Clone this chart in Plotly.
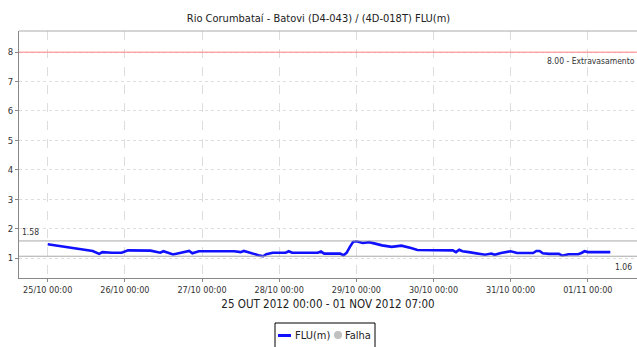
import plotly.graph_objects as go
import pandas as pd

# Hours after 25/10/2012 00:00 and river level readings (m)
hours = [0, 4, 8, 11, 14, 16, 17, 20, 23, 25, 29, 32, 35, 36, 39, 42, 44, 45, 47,
         58, 60, 61, 63, 66, 67, 68, 70, 74, 75, 76, 84, 85, 86, 91, 92, 93, 94,
         95, 96, 98, 100, 102, 104, 107, 109, 110, 113, 115, 126, 127, 128, 129,
         131, 134, 136, 138, 139, 141, 144, 146, 151, 152, 153, 154, 156, 159,
         160, 162, 165, 166, 167, 168, 175]
level = [1.47, 1.41, 1.34, 1.30, 1.24, 1.14, 1.20, 1.18, 1.18, 1.26, 1.26, 1.25,
         1.18, 1.23, 1.12, 1.20, 1.24, 1.16, 1.23, 1.23, 1.20, 1.24, 1.17, 1.08,
         1.06, 1.13, 1.18, 1.18, 1.23, 1.18, 1.18, 1.22, 1.15, 1.15, 1.09, 1.18,
         1.38, 1.55, 1.57, 1.51, 1.54, 1.48, 1.43, 1.38, 1.42, 1.42, 1.34, 1.27,
         1.26, 1.20, 1.28, 1.23, 1.20, 1.16, 1.11, 1.15, 1.11, 1.17, 1.23, 1.17,
         1.17, 1.24, 1.24, 1.16, 1.14, 1.14, 1.08, 1.13, 1.13, 1.17, 1.23, 1.20,
         1.20]

max_level = 1.58
min_level = 1.06
overflow_level = 8.00
overflow_label = "8.00 - Extravasamento"
y_ticks = [1, 2, 3, 4, 5, 6, 7, 8]
series_name = "FLU(m)"
gap_name = "Falha"

start = pd.Timestamp("2012-10-25 00:00")
times = [start + pd.Timedelta(hours=h) for h in hours]

FONT = "DejaVu Sans Condensed, DejaVu Sans, sans-serif"
BLUE = "#1010ff"
GRAY_DOT = "#c0c0c0"

W, H = 637, 347
ML, MR, MT, MB = 19, 0, 31, 69
PW, PH = W - ML - MR, H - MT - MB


def px_x(px):
    """pixel column -> paper x"""
    return (px - ML) / PW


def px_y(py):
    """pixel row -> paper y"""
    return (H - MB - py) / PH


fig = go.Figure()
fig.add_trace(go.Scatter(x=times, y=level, mode="lines", name=series_name,
                         line=dict(color=BLUE, width=2.6), showlegend=False))
fig.add_trace(go.Scatter(x=[None], y=[None], mode="markers", name=gap_name,
                         marker=dict(color=GRAY_DOT, size=8), showlegend=False))

x0 = start - pd.Timedelta(hours=8.93)
x1 = start + pd.Timedelta(hours=183.3)

# Reference levels
for val, col in [(overflow_level, "#ff8080"), (max_level, "#a8a8a8"), (min_level, "#a8a8a8")]:
    fig.add_shape(type="line", xref="paper", x0=0, x1=1, yref="y", y0=val, y1=val,
                  line=dict(color=col, width=1))

fig.add_annotation(xref="paper", x=1, y=overflow_level, yref="y", text=overflow_label,
                   showarrow=False, xanchor="right", yanchor="top", yshift=-2,
                   font=dict(size=8.5, color="#333333", family=FONT))
fig.add_annotation(xref="paper", x=0, y=max_level, yref="y", text=f"{max_level:.2f}",
                   showarrow=False, xanchor="left", yanchor="bottom", xshift=1, yshift=2,
                   font=dict(size=8.5, color="#333333", family=FONT))
fig.add_annotation(xref="paper", x=1, y=min_level, yref="y", text=f"{min_level:.2f}",
                   showarrow=False, xanchor="right", yanchor="top", xshift=-3, yshift=-4,
                   font=dict(size=8.5, color="#333333", family=FONT))

# Compact boxed legend below the axis title
fig.add_shape(type="rect", xref="paper", yref="paper",
              x0=px_x(275), x1=px_x(375), y0=px_y(323), y1=px_y(352),
              line=dict(color="#000000", width=1), fillcolor="white")
fig.add_shape(type="line", xref="paper", yref="paper",
              x0=px_x(278), x1=px_x(291), y0=px_y(335.5), y1=px_y(335.5),
              line=dict(color=BLUE, width=3))
fig.add_annotation(xref="paper", yref="paper", x=px_x(293), y=px_y(335),
                   text=series_name, showarrow=False, xanchor="left", yanchor="middle",
                   font=dict(size=11, family=FONT, color="#222222"))
fig.add_shape(type="circle", xref="paper", yref="paper",
              x0=px_x(334), x1=px_x(342), y0=px_y(331), y1=px_y(339),
              line=dict(color=GRAY_DOT, width=0), fillcolor=GRAY_DOT)
fig.add_annotation(xref="paper", yref="paper", x=px_x(343), y=px_y(335),
                   text=gap_name, showarrow=False, xanchor="left", yanchor="middle",
                   font=dict(size=11, family=FONT, color="#222222"))

fig.update_layout(
    width=W, height=H,
    margin=dict(l=ML, r=MR, t=MT, b=MB, autoexpand=False),
    paper_bgcolor="white", plot_bgcolor="white",
    font=dict(family=FONT, color="#222222"),
    title=dict(text="Rio Corumbataí - Batovi (D4-043) / (4D-018T) FLU(m)",
               x=0.5, xanchor="center", y=1 - 18 / H, yanchor="middle",
               font=dict(size=11, family=FONT, color="#222222")),
    xaxis=dict(range=[x0, x1], type="date", tick0=start, dtick=86400000,
               tickformat="%d/%m %H:%M", tickfont=dict(size=9, family=FONT, color="#333333"),
               showgrid=True, gridcolor="#dddddd", griddash="dash", gridwidth=1,
               showline=True, linecolor="#888888", linewidth=1,
               ticks="outside", ticklen=3, tickcolor="#888888",
               title=dict(text="25 OUT 2012 00:00 - 01 NOV 2012 07:00",
                          font=dict(size=11.5, family=FONT, color="#222222"), standoff=6),
               zeroline=False, automargin=False),
    yaxis=dict(range=[0.32, 8.72], tickvals=y_ticks,
               tickfont=dict(size=9.5, family=FONT, color="#333333"),
               showgrid=True, gridcolor="#dddddd", griddash="dot", gridwidth=1,
               showline=True, linecolor="#888888", linewidth=1,
               ticks="outside", ticklen=3, tickcolor="#888888", zeroline=False,
               automargin=False),
    showlegend=False,
)
# top border of plotting area
fig.add_shape(type="line", xref="paper", yref="paper", x0=0, x1=1, y0=1, y1=1,
              line=dict(color="#aaaaaa", width=1))

fig.write_html("out.html")
